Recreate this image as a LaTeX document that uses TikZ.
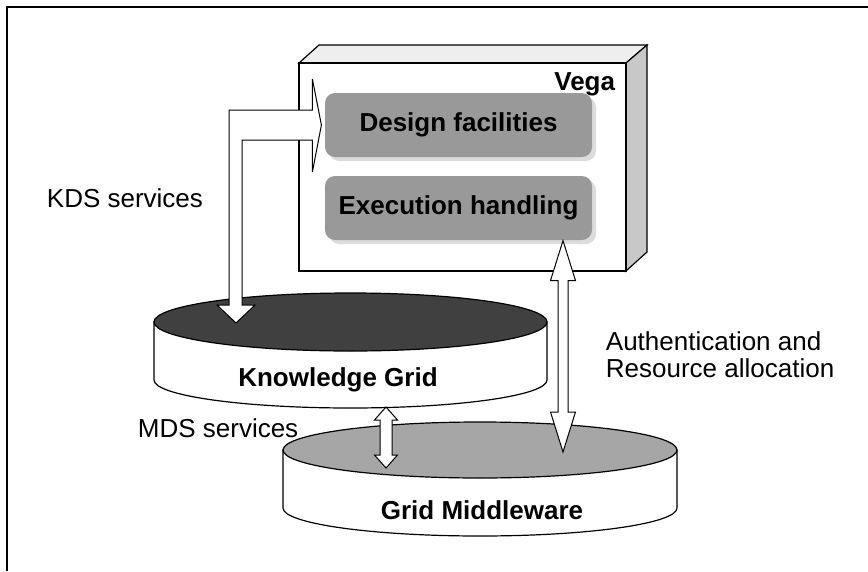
\documentclass[tikz,border=0pt]{standalone}
\usepackage{fontspec}
\setmainfont{Liberation Sans}
\usetikzlibrary{calc, shadows}
\definecolor{kgdark}{HTML}{404040}
\definecolor{gmgray}{HTML}{A6A6A6}
\definecolor{boxgray}{HTML}{999999}
\definecolor{shadowgray}{HTML}{DCDCDC}
\definecolor{topgray}{HTML}{EEEEEE}
\definecolor{sidegray}{HTML}{C8C8C8}

% hollow vertical double arrow: top tip, bottom tip, half shaft, half head, head length
\newcommand{\vdarrow}[5]{%
  \draw[hollow] (#1) -- ($(#1)+(#4,-#5)$) -- ($(#1)+(#3,-#5)$) -- ($(#2)+(#3,#5)$)
    -- ($(#2)+(#4,#5)$) -- (#2) -- ($(#2)+(-#4,#5)$) -- ($(#2)+(-#3,#5)$)
    -- ($(#1)+(-#3,-#5)$) -- ($(#1)+(-#4,-#5)$) -- cycle;}

\begin{document}
\begin{tikzpicture}[x=1pt, y=1pt, line width=1.2pt,
  lbl/.style={font=\fontsize{26}{27}\selectfont},
  blbl/.style={font=\fontsize{26}{28}\selectfont\bfseries},
  facility/.style={blbl, fill=boxgray, rounded corners=10pt, minimum width=267pt,
    minimum height=64pt, inner sep=0pt,
    drop shadow={shadow xshift=4pt, shadow yshift=-4pt, fill=shadowgray, opacity=1}},
  hollow/.style={draw=black, fill=white, line width=1pt, line join=miter}]
  \useasboundingbox (0,0) rectangle (868,-571);
  % frame
  \draw[line width=1.6pt] (7,-571) -- (7,-7) -- (868,-7);

  % Vega box
  \fill[topgray, draw=black] (299,-63) -- (319,-45) -- (647,-45) -- (626,-63) -- cycle;
  \fill[sidegray, draw=black] (626,-63) -- (647,-45) -- (647,-252) -- (626,-271) -- cycle;
  \fill[white, draw=black] (299,-63) rectangle (626,-271);
  \node[blbl, anchor=base east] (vega) at (619,-90) {Vega};
  \node[facility] (design) at (458.5,-125) {Design facilities};
  \node[facility] (exec) at (458.5,-208) {Execution handling};

  % Grid Middleware
  \fill[white, draw=black] (283,-450) -- (283,-508)
    arc[start angle=180, end angle=360, x radius=197, y radius=28] -- (677,-450) -- cycle;
  \fill[gmgray, draw=black] (480,-450) ellipse[x radius=197, y radius=28];
  \node[blbl] (gm) at (482,-510) {Grid Middleware};

  % Knowledge Grid
  \fill[white, draw=black] (154,-322) -- (154,-380)
    arc[start angle=180, end angle=360, x radius=196.5, y radius=28] -- (547,-322) -- cycle;
  \fill[kgdark, draw=black] (350.5,-322) ellipse[x radius=196.5, y radius=29];
  \node[blbl] (kg) at (338,-380) {Knowledge Grid};

  % KDS services
  \coordinate (kdsin) at ($(design.west)+(-3,0)$);
  \coordinate (kdsout) at (236,-323);
  \draw[hollow] ($(kdsout|-kdsin)+(-7,15)$) -- ($(kdsin)+(-9,15)$) -- ($(kdsin)+(-9,46)$)
    -- (kdsin) -- ($(kdsin)+(-9,-47)$) -- ($(kdsin)+(-9,-15)$) -- ($(kdsout|-kdsin)+(6,-15)$)
    -- ($(kdsout)+(6,18)$) -- ($(kdsout)+(19,18)$) -- (kdsout) -- ($(kdsout)+(-19,18)$)
    -- ($(kdsout)+(-7,18)$) -- cycle;
  \node[lbl, anchor=west] (kds) at (43,-198) {KDS services};

  % Authentication and Resource allocation
  \coordinate (authtop) at (exec.south -| 563,0);
  \coordinate (authbot) at (563,-452);
  \vdarrow{authtop}{authbot}{5}{12.5}{40}
  \node[lbl, anchor=west, align=left] (auth) at (602,-355) {Authentication and\\Resource allocation};

  % MDS services
  \coordinate (mdstop) at (386,-407);
  \coordinate (mdsbot) at (386,-468);
  \vdarrow{mdstop}{mdsbot}{6}{11.5}{13}
  \node[lbl, anchor=west] (mds) at (134,-428) {MDS services};
\end{tikzpicture}
\end{document}
